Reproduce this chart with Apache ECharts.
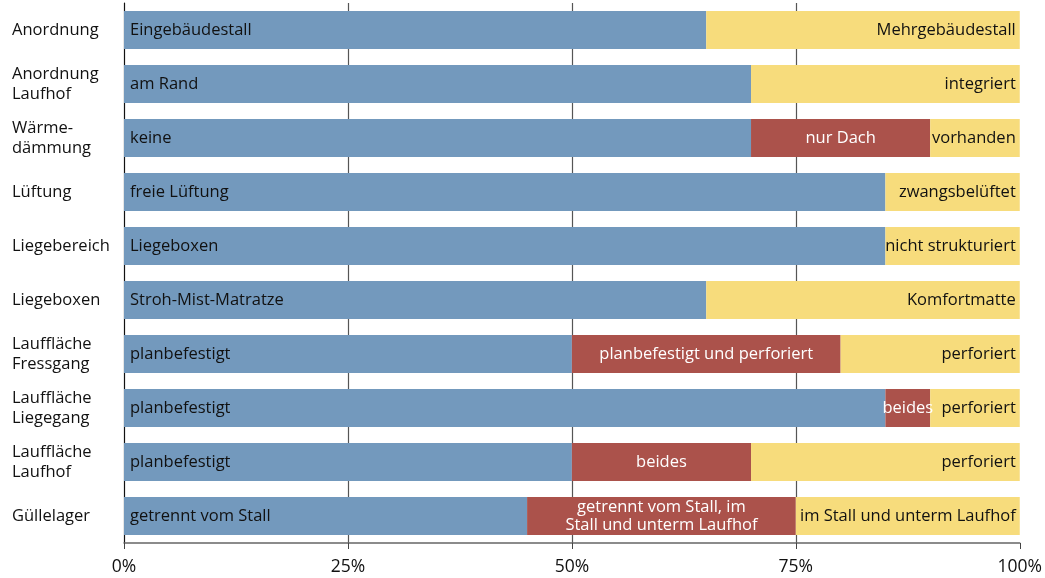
<!DOCTYPE html>
<html>
<head>
<meta charset="utf-8">
<script src="https://cdn.jsdelivr.net/npm/echarts@6/dist/echarts.min.js"></script>
<style>
html,body{margin:0;padding:0;background:#fff;}
#chart{width:1045px;height:578px;}
</style>
</head>
<body>
<div id="chart"></div>
<script>
const categories = ['Anordnung','Anordnung\nLaufhof','Wärme-\ndämmung','Lüftung','Liegebereich','Liegeboxen','Lauffläche\nFressgang','Lauffläche\nLiegegang','Lauffläche\nLaufhof','Güllelager'];
const blueValues = [65,70,70,85,85,65,50,85,50,45];
const redValues = [0,0,20,0,0,0,30,5,20,30];
const yellowValues = [35,30,10,15,15,35,20,10,30,25];
const blueLabels = ['Eingebäudestall','am Rand','keine','freie Lüftung','Liegeboxen','Stroh-Mist-Matratze','planbefestigt','planbefestigt','planbefestigt','getrennt vom Stall'];
const redLabels = ['','','nur Dach','','','','planbefestigt und perforiert','beides','beides','getrennt vom Stall, im\nStall und unterm Laufhof'];
const yellowLabels = ['Mehrgebäudestall','integriert','vorhanden','zwangsbelüftet','nicht strukturiert','Komfortmatte','perforiert','perforiert','perforiert','im Stall und unterm Laufhof'];
const xTicks = [0,25,50,75,100];

const FONT = '"Open Sans", sans-serif';
const chart = echarts.init(document.getElementById('chart'));

function mk(name, vals, labels, color, pos, textColor, dist){
  return {
    name, type:'bar', stack:'all', barWidth:'70%',
    data: vals.map((v,i)=>({value:v, label:{formatter: labels[i]}})),
    itemStyle:{color},
    label:{show:true, position:pos, distance:dist, color:textColor, fontFamily:FONT, fontSize:16.5, lineHeight:18, overflow:'none'},
    silent:true
  };
}

chart.setOption({
  animation:false,
  grid:{left:124,right:19,top:3,bottom:35,containLabel:false},
  xAxis:{
    type:'value', min:0, max:100, interval:25,
    axisLine:{show:true,lineStyle:{color:'#666',width:1.5}},
    axisTick:{show:true,length:6,lineStyle:{color:'#444'}},
    axisLabel:{formatter:v=>xTicks.includes(v)?v+'%':'', color:'#111', fontFamily:FONT, fontSize:17.5, margin:15},
    splitLine:{show:true,showMinLine:false,showMaxLine:false,lineStyle:{color:'#555',width:1.2}}
  },
  yAxis:{
    type:'category', data:categories, inverse:true,
    axisLine:{show:true,lineStyle:{color:'#111',width:1.2}},
    axisTick:{show:false},
    axisLabel:{align:'left', margin:112, color:'#111', fontFamily:FONT, fontSize:16.5, lineHeight:20}
  },
  series:[
    mk('blue', blueValues, blueLabels, '#7399bd', 'insideLeft', '#111', 6),
    mk('red', redValues, redLabels, '#ab524b', 'inside', '#fff', 5),
    mk('yellow', yellowValues, yellowLabels, '#f7dc7c', 'insideRight', '#111', 4)
  ]
});
</script>
</body>
</html>
